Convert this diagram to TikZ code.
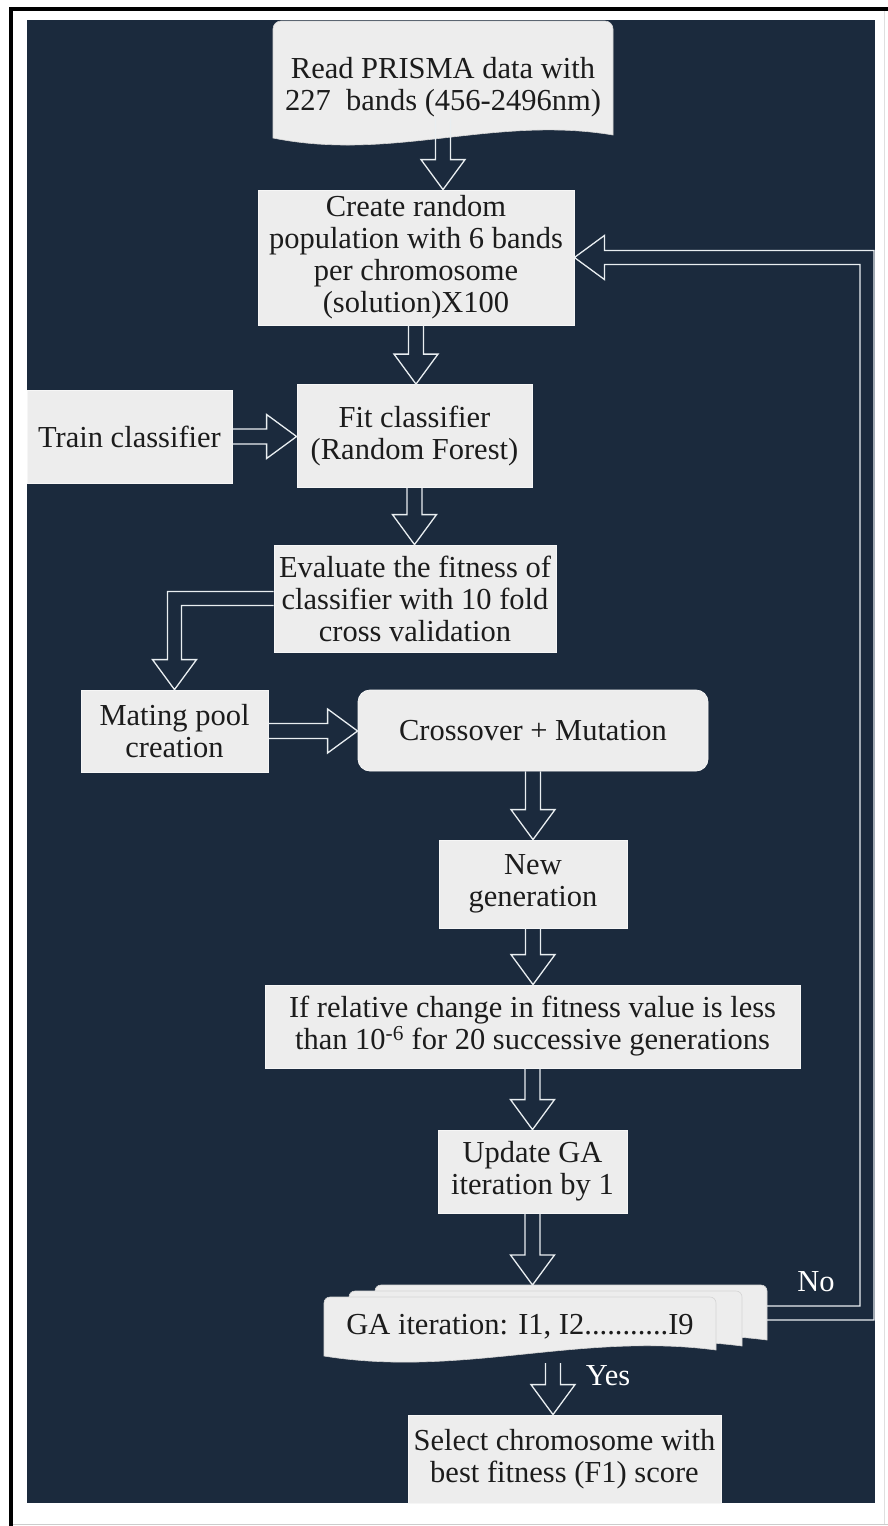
\documentclass[tikz,border=0pt]{standalone}
\usepackage{fontspec}
\setmainfont{Liberation Serif}
\usetikzlibrary{calc}
\pgfdeclarelayer{back}
\pgfdeclarelayer{mid}
\pgfsetlayers{back,mid,main}
\definecolor{navy}{HTML}{1B2A3D}
\definecolor{boxfill}{HTML}{EDEDED}
\definecolor{boxline}{HTML}{F6F6F6}
\definecolor{arrowcol}{HTML}{E9EEF1}
\definecolor{txt}{HTML}{1C1C1C}
\definecolor{docline}{HTML}{D4D4D4}
\newcommand\fs{\fontsize{30.5pt}{32pt}\selectfont}
% vertical hollow arrow: x of #1, from y of #1 down to y of #2
\newcommand\arrV[2]{\draw[harrow] let \p1=#1, \p2=#2 in
  (\x1-7.5pt,\y1) -- (\x1-7.5pt,\y2+30pt) -- (\x1-22pt,\y2+30pt) -- (\x1,\y2)
  -- (\x1+22pt,\y2+30pt) -- (\x1+7.5pt,\y2+30pt) -- (\x1+7.5pt,\y1);}
% horizontal hollow arrow to the right: y of #1, from x of #1 to x of #2
\newcommand\arrH[2]{\draw[harrow] let \p1=#1, \p2=#2 in
  (\x1,\y1+7.5pt) -- (\x2-30pt,\y1+7.5pt) -- (\x2-30pt,\y1+22pt) -- (\x2,\y1)
  -- (\x2-30pt,\y1-22pt) -- (\x2-30pt,\y1-7.5pt) -- (\x1,\y1-7.5pt);}
\begin{document}
\begin{tikzpicture}[x=1pt,y=-1pt,
  box/.style={draw=boxline, fill=boxfill, line width=0.8pt, text=txt,
    font=\fs, align=center, inner sep=0pt},
  rbox/.style={box, rounded corners=12pt},
  plain/.style={text=txt, font=\fs, align=center, inner sep=0pt},
  lbl/.style={text=white, font=\fs, inner sep=0pt},
  harrow/.style={draw=arrowcol, line width=1.3pt, line join=miter},
  docshape/.style={fill=boxfill, draw=docline, line width=0.6pt}]
\useasboundingbox (0,0) rectangle (888,1526);
\begin{pgfonlayer}{back}
  \fill[white] (0,0) rectangle (888,1526);
  \fill[navy] (27,20) rectangle (875,1503);
  \draw[black, line width=4pt] (11,1526) -- (11,9) -- (888,9);
  \draw[gray!40, line width=0.8pt] (13,1524) -- (888,1524);
  \draw[gray!25, line width=0.8pt] (884,11) -- (884,1524);
\end{pgfonlayer}
% document shapes
\begin{pgfonlayer}{mid}
  \path[docshape] (273,138) [rounded corners=8pt] -- (273,21) -- (613,21) [sharp corners] -- (613,135)
     .. controls (494,115) and (392,162) .. (273,138) -- cycle;
  \path[docshape] (375,1348) [rounded corners=6pt] -- (375,1285) -- (767,1285) [sharp corners] -- (767,1340)
     .. controls (630,1322) and (512,1370) .. (375,1348) -- cycle;
  \path[docshape] (349,1352) [rounded corners=6pt] -- (349,1291) -- (742,1291) [sharp corners] -- (742,1346)
     .. controls (605,1328) and (486,1374) .. (349,1352) -- cycle;
  \path[docshape] (324,1356) [rounded corners=6pt] -- (324,1297) -- (716,1297) [sharp corners] -- (716,1350)
     .. controls (579,1332) and (461,1378) .. (324,1356) -- cycle;
\end{pgfonlayer}
% nodes
\node[plain] (doc) at (443,87.5) {Read PRISMA data with\\227\ \ bands (456-2496nm)};
\node[box, minimum width=316pt, minimum height=135pt] (pop) at (416,257.5)
  {Create random\\population with 6 bands\\per chromosome\\(solution)X100};
\node[box, minimum width=205pt, minimum height=93pt] (train) at (129.5,436.5) {Train classifier};
\node[box, minimum width=235pt, minimum height=103pt] (fit) at (414.5,436) {Fit classifier\\(Random Forest)};
\node[box, minimum width=282pt, minimum height=107pt] (eval) at (415,598.5)
  {Evaluate the fitness of\\classifier with 10 fold\\cross validation};
\node[box, minimum width=187pt, minimum height=82pt] (mate) at (174.5,731) {Mating pool\\creation};
\node[rbox, minimum width=350pt, minimum height=81pt] (cross) at (533,730.5) {Crossover + Mutation};
\node[box, minimum width=188pt, minimum height=88pt] (newgen) at (533,884) {New\\generation};
\node[box, minimum width=535pt, minimum height=83pt] (cond) at (532.5,1026.5)
  {If relative change in fitness value is less\\than 10\textsuperscript{-6} for 20 successive generations};
\node[box, minimum width=189pt, minimum height=83pt] (update) at (532.5,1171.5) {Update GA\\iteration by 1};
\node[plain] (ga) at (520,1327) {GA iteration: I1, I2...........I9};
\node[box, minimum width=313pt, minimum height=88pt] (select) at (564.5,1459)
  {Select chromosome with\\best fitness (F1) score};
\node[lbl] (no) at (816,1282) {No};
\node[lbl] (yes) at (608,1376) {Yes};
% connector end points
\coordinate (docout) at (443,118);
\coordinate (gatop) at (533,1285);
\coordinate (gabot) at (553,1363);
\coordinate (gaeast) at (767,1313);
\coordinate (fbc) at (867,1313);
% connectors
\arrV{(docout)}{(pop.north)}
\arrV{(pop.south)}{(fit.north)}
\arrH{(train.east)}{(fit.west)}
\arrV{(fit.south)}{(eval.north)}
\draw[harrow] let \p1=(eval.west), \p2=(mate.north) in
  (\x1,\y1+7pt) -- (\x2-7pt,\y1+7pt) -- (\x2-7pt,\y2+30pt) -- (\x2-22pt,\y2+30pt) -- (\x2,\y2)
  -- (\x2+22pt,\y2+30pt) -- (\x2+7pt,\y2+30pt) -- (\x2+7pt,\y1-7pt) -- (\x1,\y1-7pt);
\arrH{(mate.east)}{(cross.west)}
\arrV{(cross.south)}{(newgen.north)}
\arrV{(newgen.south)}{(cond.north)}
\arrV{(cond.south)}{(update.north)}
\arrV{(update.south)}{(gatop)}
\arrV{(gabot)}{(select.north)}
\draw[harrow] let \p1=(gaeast), \p2=(pop.east), \p3=(fbc) in
  (\x1,\y1-7pt) -- (\x3+7pt,\y1-7pt) -- (\x3+7pt,\y2+7pt) -- (\x2+30pt,\y2+7pt)
  -- (\x2+30pt,\y2+22pt) -- (\x2,\y2) -- (\x2+30pt,\y2-22pt) -- (\x2+30pt,\y2-7pt)
  -- (\x3-7pt,\y2-7pt) -- (\x3-7pt,\y1+7pt) -- (\x1,\y1+7pt);
\end{tikzpicture}
\end{document}
